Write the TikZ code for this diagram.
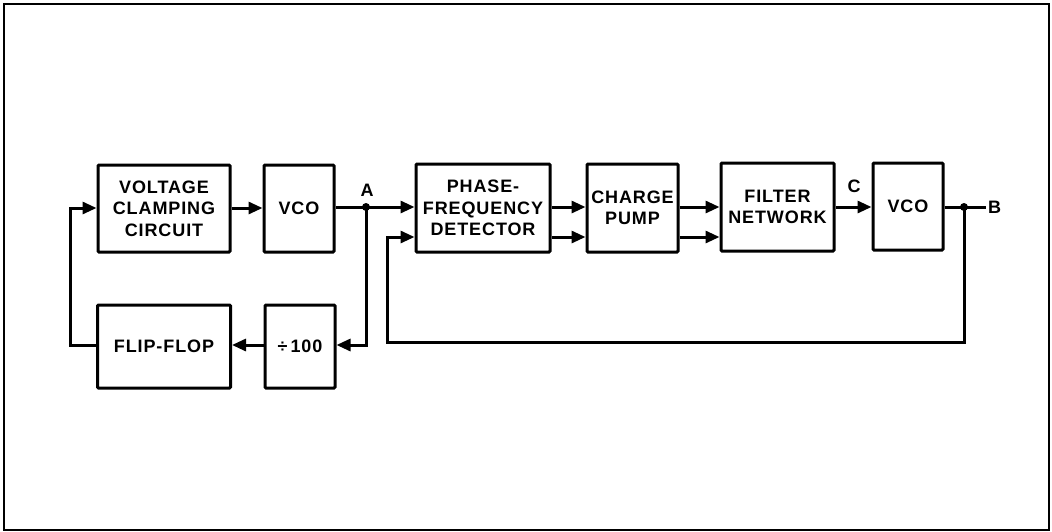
\documentclass[tikz,border=0pt]{standalone}
\usepackage{fontspec}
\setmainfont{Liberation Sans}[LetterSpace=5]
\usetikzlibrary{arrows.meta,calc}
\tikzset{
  blk/.style={draw,line width=3pt,rounded corners=1pt,align=center,inner sep=0pt,
    font=\bfseries\fontsize{18}{21.5}\selectfont},
  wire/.style={line width=3pt},
  arr/.style={wire,-{Triangle[length=14pt,width=12pt]}},
  lbl/.style={font=\bfseries\fontsize{18}{20}\selectfont,inner sep=0pt},
  dot/.style={circle,fill,inner sep=0pt,minimum size=8pt}
}
\begin{document}
\begin{tikzpicture}[x=1pt,y=-1pt]
\useasboundingbox (0,0) rectangle (1052,531);
\draw[line width=2.4pt] (4,4) rectangle (1049,530);
% blocks
\node[blk,minimum width=132pt,minimum height=87pt] (vcc) at (164,208.5) {VOLTAGE\\CLAMPING\\CIRCUIT};
\node[blk,minimum width=70pt,minimum height=87pt] (vco1) at (299,208.5) {VCO};
\node[blk,minimum width=133pt,minimum height=83pt] (ff) at (164,346.5) {FLIP-FLOP};
\node[blk,minimum width=70pt,minimum height=83pt] (div) at (300,346.5) {÷\,100};
\node[blk,minimum width=134pt,minimum height=88pt] (pfd) at (483,208) {PHASE-\\FREQUENCY\\DETECTOR};
\node[blk,minimum width=91pt,minimum height=88pt] (cp) at (632.5,208) {CHARGE\\PUMP};
\node[blk,minimum width=113pt,minimum height=88pt] (fn) at (777.5,207) {FILTER\\NETWORK};
\node[blk,minimum width=70pt,minimum height=87pt] (vco2) at (908,206.5) {VCO};
% junctions and labels
\node[dot] (a) at (366,207) {};
\node[lbl] (alab) at (367,190) {A};
\node[dot] (b) at (964,207) {};
\node[lbl,anchor=west] (blab) at (988,207) {B};
\node[lbl] (clab) at (854,186) {C};
\coordinate (bend) at (986,207);
% wires
\draw[arr] (vcc.east |- 0,208) -- (vco1.west |- 0,208);
\draw[wire] (vco1.east |- 0,207) -- (a.center);
\draw[arr] (a.center) -- (pfd.west |- 0,207);
\draw[arr] (a.center) -- (366,345) -- (div.east |- 0,345);
\draw[arr] (div.west |- 0,345) -- (ff.east |- 0,345);
\draw[arr] (ff.west |- 0,345) -- (70,345) -- (70,208) -- (vcc.west |- 0,208);
\draw[arr] (pfd.east |- 0,207) -- (cp.west |- 0,207);
\draw[arr] (pfd.east |- 0,237) -- (cp.west |- 0,237);
\draw[arr] (cp.east |- 0,207) -- (fn.west |- 0,207);
\draw[arr] (cp.east |- 0,237) -- (fn.west |- 0,237);
\draw[arr] (fn.east |- 0,207) -- (vco2.west |- 0,207);
\draw[wire] (vco2.east |- 0,207) -- (b.center) -- (bend);
\draw[arr] (b.center) -- (964,342) -- (387,342) -- (387,237) -- (pfd.west |- 0,237);
\end{tikzpicture}
\end{document}
